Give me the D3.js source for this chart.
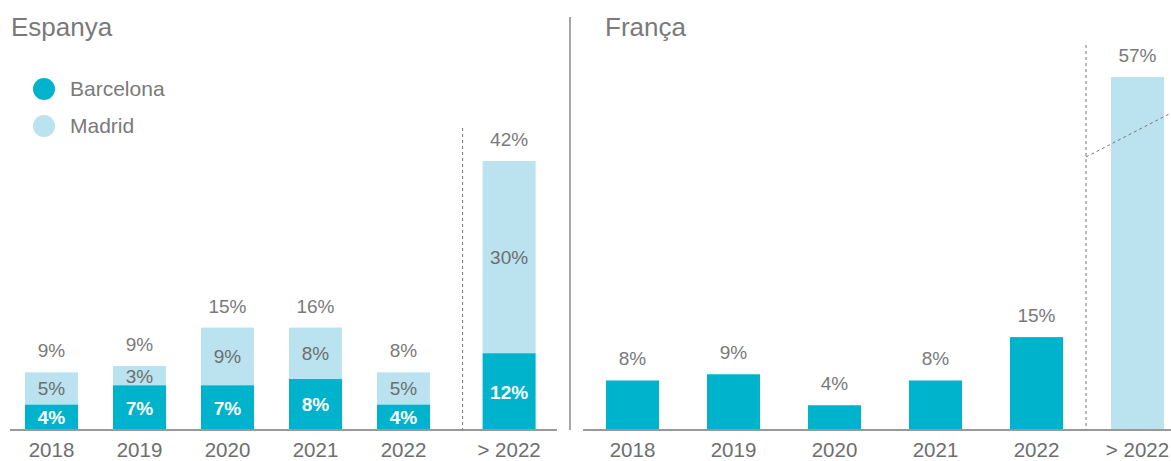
<!DOCTYPE html>
<html>
<head>
<meta charset="utf-8">
<script src="https://cdn.jsdelivr.net/npm/d3@7"></script>
<style>
  body { margin: 0; background: #fff; }
  svg text { font-family: "Liberation Sans", Arial, Helvetica, sans-serif; }
</style>
</head>
<body>
<div id="chart"></div>
<script>
// data
const categories = ["2018", "2019", "2020", "2021", "2022", "> 2022"];
const barcelona = [4, 7, 7, 8, 4, 12];
const madrid = [5, 3, 9, 8, 5, 30];
const spainTotals = [9, 9, 15, 16, 8, 42];
const france = [8, 9, 4, 8, 15, 57];
const seriesNames = ["Barcelona", "Madrid"];

const w = 1171;
const h = 461;
const base = 430;
const bw = 53;
const dark = "#00b3cc";
const light = "#bae3ef";
const grey = "#7a7a7a";

const svg = d3.select("#chart")
  .append("svg")
  .attr("width", w)
  .attr("height", h);

// slot index -> x ; the forecast column sits a bit further out on the left panel
const slot = (i) => i === categories.length - 1 ? i + 0.2 : i;
const xL = d3.scaleLinear().domain([0, 4]).range([51.5, 403.5]);
const xR = d3.scaleLinear().domain([0, 5]).range([632.5, 1137.5]);

const yL = d3.scaleLinear()
  .domain([0, d3.max(barcelona.map((d, i) => d + madrid[i]))])
  .range([base, 161]);
const yR = d3.scaleLinear()
  .domain([0, d3.max(france)])
  .range([base, 77]);

// stack for Spain
const rows = categories.map((c, i) => ({ cat: c, Barcelona: barcelona[i], Madrid: madrid[i] }));
const stacked = d3.stack().keys(seriesNames)(rows);
const colour = d3.scaleOrdinal().domain(seriesNames).range([dark, light]);

// titles
svg.append("text").attr("x", 11).attr("y", 36)
  .attr("font-size", 26).attr("fill", grey).text("Espanya");
svg.append("text").attr("x", 605).attr("y", 36)
  .attr("font-size", 26).attr("fill", grey).text("França");

// legend
const legend = svg.append("g");
seriesNames.forEach((s, i) => {
  legend.append("circle").attr("cx", 44).attr("cy", 89 + i * 37).attr("r", 11)
    .attr("fill", colour(s));
  legend.append("text").attr("x", 70).attr("y", 96 + i * 37)
    .attr("font-size", 21).attr("fill", grey).text(s);
});

// divider
svg.append("line").attr("x1", 570).attr("x2", 570).attr("y1", 17).attr("y2", base)
  .attr("stroke", "#888").attr("stroke-width", 1.5);

// ---- Spain bars
const gL = svg.append("g");
stacked.forEach(layer => {
  gL.selectAll(null)
    .data(layer)
    .enter()
    .append("rect")
    .attr("x", (d, i) => xL(slot(i)) - bw / 2)
    .attr("y", d => yL(d[1]))
    .attr("width", bw)
    .attr("height", d => yL(d[0]) - yL(d[1]))
    .attr("fill", colour(layer.key));

  gL.selectAll(null)
    .data(layer)
    .enter()
    .append("text")
    .attr("x", (d, i) => xL(slot(i)))
    .attr("y", d => (yL(d[0]) + yL(d[1])) / 2 + 7)
    .attr("text-anchor", "middle")
    .attr("font-size", 19)
    .attr("font-weight", layer.key === "Barcelona" ? "bold" : "normal")
    .attr("fill", layer.key === "Barcelona" ? "#fff" : "#6e6e6e")
    .text(d => (d[1] - d[0]) + "%");
});

gL.selectAll(".tot")
  .data(spainTotals)
  .enter()
  .append("text")
  .attr("x", (d, i) => xL(slot(i)))
  .attr("y", (d, i) => yL(barcelona[i] + madrid[i]) - 15)
  .attr("text-anchor", "middle")
  .attr("font-size", 19)
  .attr("fill", grey)
  .text(d => d + "%");

// ---- France bars
const gR = svg.append("g");
gR.selectAll("rect")
  .data(france)
  .enter()
  .append("rect")
  .attr("x", (d, i) => xR(i) - bw / 2)
  .attr("y", d => yR(d))
  .attr("width", bw)
  .attr("height", d => base - yR(d))
  .attr("fill", (d, i) => i === france.length - 1 ? light : dark);

gR.selectAll("text")
  .data(france)
  .enter()
  .append("text")
  .attr("x", (d, i) => xR(i))
  .attr("y", d => yR(d) - 15)
  .attr("text-anchor", "middle")
  .attr("font-size", 19)
  .attr("fill", grey)
  .text(d => d + "%");

// baselines
svg.append("line").attr("x1", 10).attr("x2", 557).attr("y1", base).attr("y2", base)
  .attr("stroke", "#999").attr("stroke-width", 2);
svg.append("line").attr("x1", 583).attr("x2", w).attr("y1", base).attr("y2", base)
  .attr("stroke", "#999").attr("stroke-width", 2);

// axis labels
const last = categories.length - 1;
[[xL, slot], [xR, i => i]].forEach(([sc, f]) => {
  svg.append("g").selectAll("text")
    .data(categories)
    .enter()
    .append("text")
    .attr("x", (d, i) => sc(f(i)))
    .attr("y", 457)
    .attr("text-anchor", "middle")
    .attr("font-size", 20.5)
    .attr("fill", "#6e6e6e")
    .text(d => d);
});

// forecast separators (dotted)
const sepL = xL(slot(last)) - bw / 2 - 20;
const sepR = xR(last) - bw / 2 - 25;
svg.append("line").attr("x1", sepL).attr("x2", sepL)
  .attr("y1", yL(barcelona[last] + madrid[last]) - 33).attr("y2", base)
  .attr("stroke", "#777").attr("stroke-dasharray", "3,3");
svg.append("line").attr("x1", sepR).attr("x2", sepR)
  .attr("y1", yR(france[last]) - 32).attr("y2", base)
  .attr("stroke", "#777").attr("stroke-dasharray", "3,3");
// axis-break hint on the tall French bar
svg.append("line").attr("x1", sepR).attr("x2", w)
  .attr("y1", 157).attr("y2", 113)
  .attr("stroke", "#777").attr("stroke-dasharray", "3,3");
</script>
</body>
</html>
